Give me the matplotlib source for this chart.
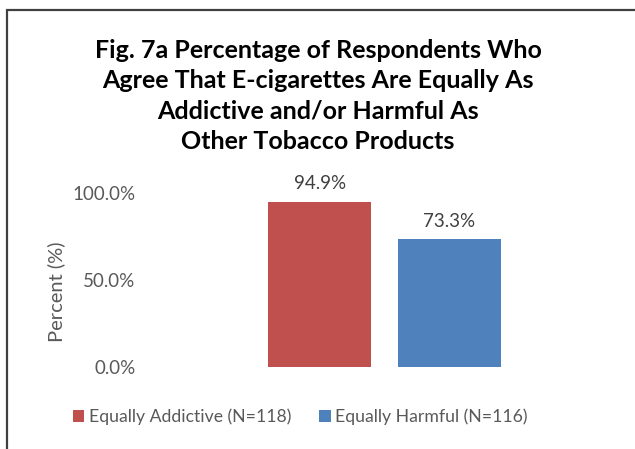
import matplotlib
matplotlib.use("Agg")
import matplotlib.pyplot as plt
from matplotlib.patches import Rectangle

series = ["Equally Addictive (N=118)", "Equally Harmful (N=116)"]
values = [94.9, 73.3]
colors = ["#C0504D", "#4F81BD"]
yticks = [0, 50, 100]
ytick_labels = ["0.0%", "50.0%", "100.0%"]
title = ("Fig. 7a Percentage of Respondents Who\nAgree That E-cigarettes Are Equally As\n"
         "Addictive and/or Harmful As\nOther Tobacco Products")

plt.rcParams['font.family'] = ['Lato', 'DejaVu Sans']
W, H = 635, 449
fig = plt.figure(figsize=(W/100, H/100), dpi=100)
ax = fig.add_axes([145/W, 82/H, 479/W, 174/H])

step = 0.271
width = 0.215
for i, (s, v, c) in enumerate(zip(series, values, colors)):
    x = 0.5 + (i - 0.5) * step
    ax.bar(x, v, width=width, color=c, label=s)
    ax.annotate(f"{v:.1f}%", (x, v), xytext=(0, 7), textcoords="offset points",
                ha="center", va="bottom", fontsize=13.5, color="#404040")

ax.set_xlim(0, 1)
ax.set_ylim(0, 100)
ax.set_yticks(yticks)
ax.set_yticklabels(ytick_labels, fontsize=13.5, color="#595959")
ax.set_xticks([])
ax.tick_params(axis='y', length=0, pad=7)
for sp in ax.spines.values():
    sp.set_visible(False)
ax.set_ylabel("Percent (%)", fontsize=14.5, color="#595959")
ax.yaxis.set_label_coords(-80/479, 0.43)

fig.text(318/W, 1 - 96/H, title, ha="center", va="center", fontsize=18,
         fontweight="bold", color="#000000", linespacing=1.4)

leg = fig.legend(loc="center left", bbox_to_anchor=(73/W, 1 - 417/H), ncol=2,
                 frameon=False, fontsize=12.7, handlelength=0.65, handleheight=0.65,
                 handletextpad=0.25, columnspacing=1.6, borderaxespad=0, borderpad=0)
for t in leg.get_texts():
    t.set_color("#595959")

fig.patches.append(Rectangle((7/W, -0.2), 1.5, 1.2 - 10/H, transform=fig.transFigure,
                             fill=False, edgecolor="#404040", linewidth=1.6))

fig.savefig("out.png", dpi=100)
